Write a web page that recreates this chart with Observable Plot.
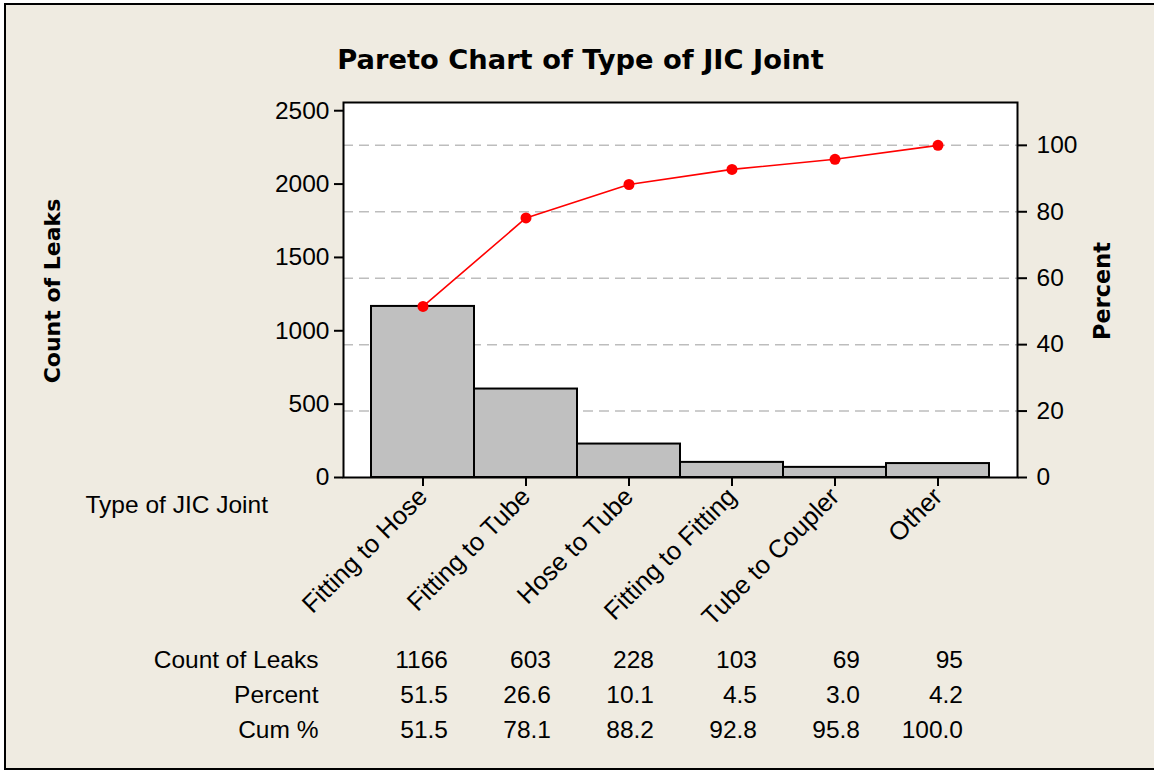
<!DOCTYPE html>
<html>
<head>
<meta charset="utf-8">
<script src="https://cdn.jsdelivr.net/npm/d3@7"></script>
<script src="https://cdn.jsdelivr.net/npm/@observablehq/plot@0.6"></script>
<style>
  html, body { margin: 0; padding: 0; background: #ffffff; }
  #wrap { position: relative; width: 1154px; height: 770px; overflow: hidden; }
  #panel { position: absolute; left: 4px; top: 3px; width: 1200px; height: 763px;
           border: 2px solid #000; background: #EFEBE1; }
  #chart { position: absolute; left: 0; top: 0; }
</style>
</head>
<body>
<div id="wrap"><div id="panel"></div><div id="chart"></div></div>
<script>
const categories = ["Fitting to Hose", "Fitting to Tube", "Hose to Tube", "Fitting to Fitting", "Tube to Coupler", "Other"];
const counts = [1166, 603, 228, 103, 69, 95];
const percents = [51.5, 26.6, 10.1, 4.5, 3.0, 4.2];
const cumPercents = [51.5, 78.1, 88.2, 92.8, 95.8, 100.0];
const countTicks = [0, 500, 1000, 1500, 2000, 2500];
const percentTicks = [0, 20, 40, 60, 80, 100];
const rowLabels = ["Count of Leaks", "Percent", "Cum %"];
const title = "Pareto Chart of Type of JIC Joint";
const xTitle = "Type of JIC Joint";
const yTitle = "Count of Leaks";
const y2Title = "Percent";

const total = d3.sum(counts);
let running = 0;
const rows = categories.map((c, i) => {
  running += counts[i];
  return {cat: c, count: counts[i], pct: percents[i], cum: cumPercents[i], cumCount: running};
});
const pctToCount = p => p / 100 * total;

const boldFont = "DejaVu Sans";
const rowDy = [182.5, 217.5, 252.5];

const chart = Plot.plot({
  width: 1154,
  height: 770,
  marginLeft: 343,
  marginRight: 137,
  marginTop: 102,
  marginBottom: 293,
  style: {background: "transparent", fontFamily: "Liberation Sans", fontSize: "24.5px", color: "#000", overflow: "visible"},
  x: {type: "band", domain: categories, paddingInner: 0, paddingOuter: 0.26, axis: null},
  y: {domain: [0, 2556], axis: null},
  marks: [
    Plot.frame({fill: "white", stroke: null}),
    Plot.ruleY(percentTicks.filter(p => p > 0).map(pctToCount), {stroke: "#BDBDBD", strokeWidth: 1.5, strokeDasharray: "10,6"}),
    Plot.barY(rows, {x: "cat", y: "count", fill: "#C0C0C0", stroke: "#000", strokeWidth: 2}),
    Plot.line(rows, {x: "cat", y: "cumCount", stroke: "#FF0000", strokeWidth: 1.6}),
    Plot.dot(rows, {x: "cat", y: "cumCount", r: 5.5, fill: "#FF0000", stroke: "none"}),
    Plot.frame({stroke: "#000", strokeWidth: 2}),
    Plot.axisY(countTicks, {anchor: "left", tickSize: 9, tickPadding: 5, strokeWidth: 2, label: null,
      tickFormat: d => String(d), fontSize: 24.5}),
    Plot.axisY(percentTicks.map(pctToCount), {anchor: "right", tickSize: 9, tickPadding: 10, strokeWidth: 2, label: null,
      tickFormat: d => String(Math.round(d / total * 100)), fontSize: 24.5}),
    Plot.axisX({anchor: "bottom", tickSize: 9, tickPadding: 6, strokeWidth: 2, tickRotate: -45, label: null, fontSize: 25.5}),
    // titles
    Plot.text([title], {frameAnchor: "top", dx: -100, dy: -42, lineAnchor: "middle", fontFamily: boldFont, fontWeight: "bold", fontSize: 27.3}),
    Plot.text([yTitle], {frameAnchor: "left", dx: -290.5, dy: 1, rotate: -90, textAnchor: "middle", lineAnchor: "middle", fontFamily: boldFont, fontWeight: "bold", fontSize: 22}),
    Plot.text([y2Title], {frameAnchor: "right", dx: 85.5, dy: 1, rotate: -90, textAnchor: "middle", lineAnchor: "middle", fontFamily: boldFont, fontWeight: "bold", fontSize: 22.4}),
    Plot.text([xTitle], {frameAnchor: "bottom-left", dx: -258, dy: 27.5, textAnchor: "start", lineAnchor: "middle"}),
    // table row labels
    ...rowLabels.map((lab, i) => Plot.text([lab], {frameAnchor: "bottom-left", dx: -25, dy: rowDy[i], textAnchor: "end", lineAnchor: "middle"})),
    // table values
    Plot.text(rows, {x: "cat", text: d => String(d.count), frameAnchor: "bottom", dx: 25, dy: rowDy[0], textAnchor: "end", lineAnchor: "middle"}),
    Plot.text(rows, {x: "cat", text: d => d.pct.toFixed(1), frameAnchor: "bottom", dx: 25, dy: rowDy[1], textAnchor: "end", lineAnchor: "middle"}),
    Plot.text(rows, {x: "cat", text: d => d.cum.toFixed(1), frameAnchor: "bottom", dx: 25, dy: rowDy[2], textAnchor: "end", lineAnchor: "middle"})
  ]
});
document.getElementById("chart").appendChild(chart);
</script>
</body>
</html>
